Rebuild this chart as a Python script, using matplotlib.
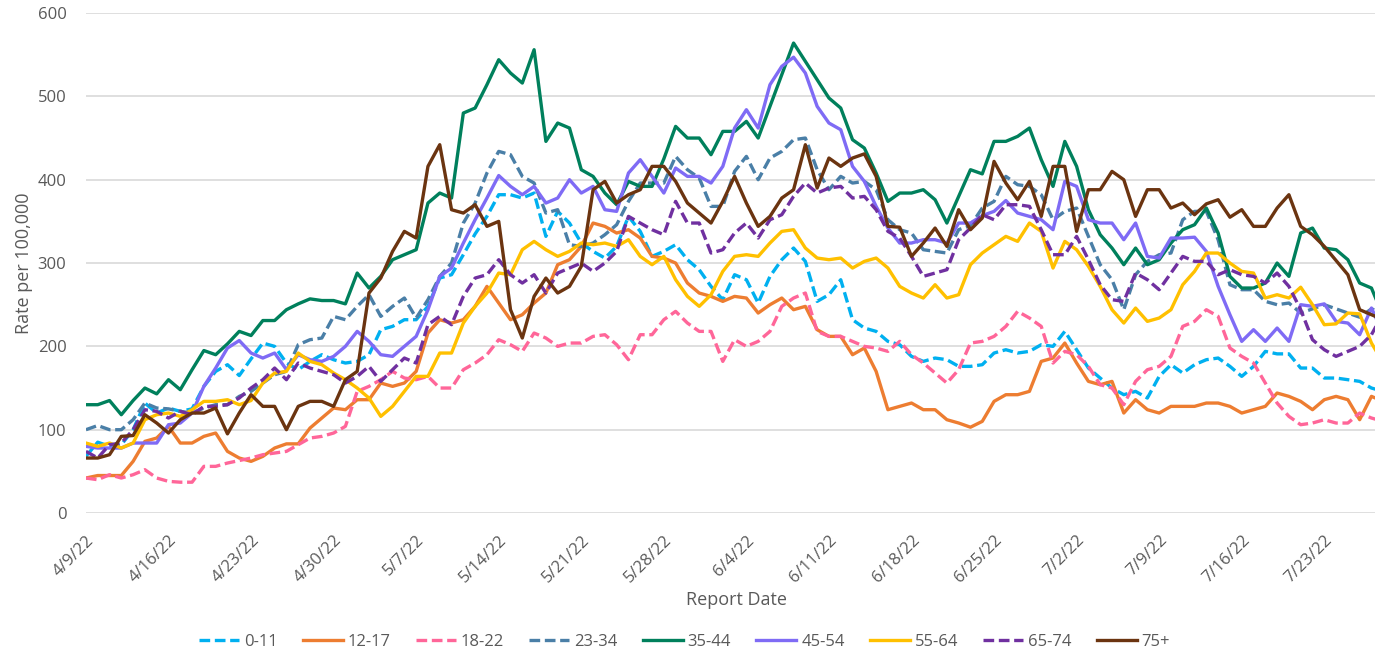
import numpy as np
import pandas as pd
import matplotlib.pyplot as plt
from matplotlib.transforms import ScaledTranslation

# Report dates (daily, 4/9/22 onwards)
dates = pd.date_range('2022-04-09', periods=111, freq='D')
date_labels = [f'{d.month}/{d.day}/22' for d in dates]

# Rate per 100,000 by age group
age_0_11 = [68, 85, 80, 82, 100, 132, 120, 126, 122, 125, 152, 170, 178, 165, 185,
            204, 200, 180, 172, 182, 190, 184, 180, 182, 190, 220, 224, 232, 232, 248, 282, 286, 310, 335, 356, 382,
            382, 378, 384, 332, 362, 348, 324, 314, 306, 320, 356, 338, 308, 314, 322, 304, 292, 272, 256, 286,
            280, 252, 284, 304, 318, 302, 254, 262, 280, 232, 222, 218, 206, 202, 188, 182, 186, 184, 176, 176, 178,
            192, 196, 192, 194, 202, 200, 218, 196, 174, 162, 150, 142, 146, 138, 164, 178, 168, 178,
            184, 186, 176, 164, 176, 194, 191, 191, 174, 174, 162, 162, 160, 158, 150, 146]
age_12_17 = [42, 45, 45, 45, 62, 86, 90, 104, 84, 84, 92, 96, 74, 66, 62,
             68, 78, 83, 83, 102, 114, 126, 124, 136, 136, 156, 152, 156, 170, 216, 232, 228, 232, 248, 272, 252,
             232, 238, 252, 264, 298, 304, 320, 348, 344, 336, 340, 330, 308, 306, 300, 276, 264, 260, 254, 260,
             258, 240, 250, 258, 244, 248, 220, 212, 212, 190, 198, 170, 124, 128, 132, 124, 124, 112, 108, 103, 110,
             134, 142, 142, 146, 182, 186, 204, 180, 158, 154, 158, 120, 136, 124, 120, 128, 128, 128,
             132, 132, 128, 120, 124, 128, 144, 140, 134, 124, 136, 140, 136, 112, 140, 134]
age_18_22 = [42, 40, 46, 42, 46, 52, 42, 38, 37, 37, 56, 56, 60, 63, 66,
             70, 72, 74, 82, 90, 92, 96, 104, 146, 152, 160, 170, 162, 160, 164, 150, 150, 172, 180, 190, 208,
             202, 194, 216, 210, 200, 204, 204, 212, 214, 202, 184, 214, 214, 232, 242, 228, 218, 218, 182, 208,
             200, 206, 218, 248, 258, 264, 218, 212, 212, 206, 200, 198, 194, 206, 190, 180, 168, 156, 172, 204, 206,
             212, 224, 242, 234, 224, 180, 194, 190, 176, 154, 150, 130, 158, 172, 176, 188, 224, 230,
             244, 236, 198, 188, 180, 156, 132, 116, 106, 108, 112, 108, 108, 120, 114, 110]
age_23_34 = [100, 105, 100, 100, 112, 132, 126, 125, 122, 120, 126, 130, 130, 140, 146,
             156, 166, 170, 202, 208, 210, 236, 232, 248, 262, 236, 248, 258, 234, 256, 284, 300, 348, 372, 408, 434,
             430, 404, 396, 360, 364, 322, 320, 324, 334, 346, 374, 396, 396, 396, 428, 412, 402, 368, 368, 410,
             428, 400, 426, 434, 448, 450, 412, 388, 404, 396, 398, 388, 352, 340, 336, 316, 314, 312, 340, 345, 366,
             374, 404, 394, 392, 382, 352, 362, 366, 332, 298, 280, 244, 286, 302, 310, 312, 352, 362,
             362, 328, 274, 268, 268, 254, 250, 252, 240, 245, 250, 245, 240, 235, 245, 240]
age_35_44 = [130, 130, 135, 118, 135, 150, 143, 160, 148, 172, 195, 190, 203, 218, 213,
             231, 231, 244, 251, 257, 255, 255, 251, 288, 270, 284, 304, 310, 316, 372, 384, 378, 480, 486, 514, 544,
             528, 516, 556, 446, 468, 462, 412, 404, 384, 370, 398, 392, 392, 425, 464, 450, 450, 430, 458, 458,
             470, 450, 488, 526, 564, 542, 520, 498, 486, 448, 438, 408, 374, 384, 384, 388, 376, 348, 380, 412, 407,
             446, 446, 452, 462, 424, 392, 446, 416, 364, 334, 318, 298, 318, 298, 304, 324, 340, 346,
             366, 336, 284, 270, 270, 276, 300, 284, 336, 342, 318, 316, 304, 276, 270, 236]
age_45_54 = [80, 78, 78, 78, 84, 84, 84, 106, 108, 120, 152, 174, 198, 207, 192,
             186, 192, 172, 190, 184, 182, 188, 200, 218, 206, 190, 188, 200, 212, 244, 284, 294, 324, 352, 378, 405,
             392, 382, 392, 372, 378, 400, 384, 392, 364, 362, 408, 424, 404, 384, 414, 404, 404, 396, 416, 462,
             484, 462, 514, 536, 547, 528, 488, 468, 460, 416, 398, 368, 342, 324, 324, 328, 328, 324, 348, 348, 357,
             362, 375, 360, 356, 352, 340, 398, 392, 352, 348, 348, 328, 348, 308, 306, 330, 330, 331,
             314, 272, 238, 206, 220, 206, 222, 206, 250, 248, 251, 230, 228, 214, 246, 215]
age_55_64 = [84, 80, 84, 78, 84, 112, 118, 120, 116, 124, 134, 134, 136, 130, 135,
             156, 168, 170, 192, 182, 178, 168, 160, 150, 138, 116, 128, 146, 164, 164, 192, 192, 228, 248, 264, 288,
             286, 316, 326, 316, 308, 314, 324, 322, 324, 320, 328, 308, 298, 308, 280, 260, 248, 262, 290, 308,
             310, 308, 324, 338, 340, 318, 306, 304, 306, 294, 302, 306, 294, 272, 264, 258, 274, 258, 262, 298, 312,
             322, 332, 326, 348, 338, 294, 326, 316, 296, 272, 244, 228, 246, 230, 234, 244, 274, 290,
             312, 312, 300, 290, 288, 258, 262, 258, 271, 250, 226, 227, 240, 239, 204, 180]
age_65_74 = [74, 66, 82, 84, 100, 124, 122, 114, 122, 118, 128, 128, 130, 138, 150,
             160, 174, 160, 180, 174, 170, 166, 156, 164, 176, 158, 172, 186, 180, 226, 236, 226, 260, 282, 286, 304,
             286, 276, 286, 264, 288, 294, 300, 290, 300, 314, 356, 348, 340, 334, 374, 348, 348, 312, 316, 336,
             348, 330, 352, 358, 380, 396, 384, 390, 392, 378, 380, 364, 338, 330, 308, 284, 288, 292, 328, 342, 358,
             352, 370, 370, 368, 340, 310, 310, 332, 304, 274, 256, 254, 288, 280, 268, 288, 308, 302,
             302, 286, 292, 286, 284, 276, 288, 272, 244, 208, 196, 188, 194, 200, 214, 240]
age_75_plus = [66, 66, 70, 92, 93, 118, 108, 96, 112, 120, 120, 126, 95, 120, 142,
               128, 128, 100, 128, 134, 134, 128, 160, 170, 264, 282, 314, 338, 330, 416, 442, 364, 360, 370, 344, 350,
               244, 210, 260, 282, 264, 272, 296, 388, 398, 372, 382, 388, 416, 416, 398, 372, 360, 348, 374, 404,
               372, 344, 356, 378, 388, 442, 390, 426, 416, 426, 431, 404, 344, 343, 308, 324, 342, 320, 364, 340, 354,
               422, 396, 376, 398, 356, 416, 416, 338, 388, 388, 410, 400, 356, 388, 388, 366, 372, 358,
               371, 376, 355, 364, 344, 344, 366, 382, 344, 334, 320, 303, 286, 244, 238, 232]

plt.rcParams['font.family'] = ['Open Sans', 'DejaVu Sans']
grey = '#595959'

fig = plt.figure(figsize=(13.75, 6.59), dpi=100)
ax = fig.add_axes([0.0625, 0.2215, 0.9375, 0.7587])
x = np.arange(len(dates))

series = [
    ('0-11', age_0_11, '#00B0F0', True),
    ('12-17', age_12_17, '#ED7D31', False),
    ('18-22', age_18_22, '#FF6699', True),
    ('23-34', age_23_34, '#4A7FA7', True),
    ('35-44', age_35_44, '#00805C', False),
    ('45-54', age_45_54, '#7F6BF5', False),
    ('55-64', age_55_64, '#FFC000', False),
    ('65-74', age_65_74, '#7030A0', True),
    ('75+', age_75_plus, '#6B3410', False),
]
for name, vals, col, dashed in series:
    if dashed:
        ax.plot(x, vals, color=col, lw=2.4, dashes=(3.2, 1.4), label=name)
    else:
        ax.plot(x, vals, color=col, lw=2.4, label=name)

ax.set_xlim(0, 109.3)
ax.set_ylim(0, 600)
ax.set_yticks(range(0, 601, 100))
ax.set_xticks(x[::7])
ax.set_xticklabels(date_labels[::7], rotation=45, ha='right', rotation_mode='anchor')
offset = ScaledTranslation(12 / 100, 0, fig.dpi_scale_trans)
for lab in ax.get_xticklabels():
    lab.set_transform(lab.get_transform() + offset)

ax.tick_params(axis='both', length=0, labelsize=12, colors=grey)
ax.tick_params(axis='y', pad=14)
ax.tick_params(axis='x', pad=14)
ax.grid(axis='y', color='#D9D9D9', lw=1.2)
ax.set_axisbelow(True)
for s in ax.spines.values():
    s.set_visible(False)

fig.text(24 / 1375, 1 - 263 / 659, 'Rate per 100,000', rotation=90, ha='center', va='center',
         fontsize=13, color=grey)
fig.text(736 / 1375, 1 - 600 / 659, 'Report Date', ha='center', va='center', fontsize=13, color=grey)

fig.legend(loc='center', bbox_to_anchor=(0.498, 1 - 642 / 659), ncol=9, frameon=False,
           fontsize=12, handlelength=2.4, handletextpad=0.3, columnspacing=1.5, labelcolor=grey)

fig.savefig('out.png', dpi=100)
plt.close()
